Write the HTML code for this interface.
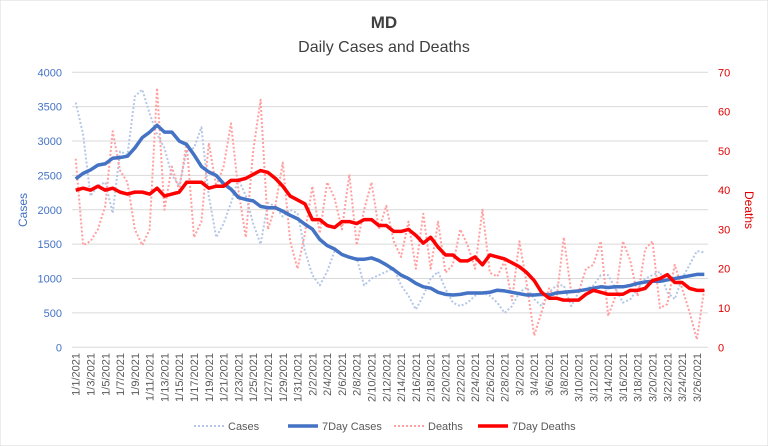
<!DOCTYPE html>
<html><head><meta charset="utf-8"><style>
body{margin:0;background:#fff;font-family:"Liberation Sans",sans-serif}
</style></head><body>
<svg id="chart" width="768" height="446" xmlns="http://www.w3.org/2000/svg" style="display:block">
<rect width="768" height="446" fill="#fff" stroke="#d9d9d9"/>
<text x="384" y="28" text-anchor="middle" font-size="17" font-weight="bold" fill="#404040">MD</text>
<text x="384" y="52" text-anchor="middle" font-size="16" fill="#404040">Daily Cases and Deaths</text>
<text transform="translate(27,210) rotate(-90)" text-anchor="middle" font-size="12" fill="#4472c4">Cases</text>
<text transform="translate(745,210) rotate(90)" text-anchor="middle" font-size="12" fill="#e00000">Deaths</text>
<g id="grid"></g><g id="marks"></g><g id="axes"></g>
<g id="legend"></g>
</svg>
<script>
const casesDaily=[3560,3100,2200,2350,2400,1950,2850,2800,3650,3750,3400,3100,2900,2500,2350,2850,2900,3200,2200,1600,1800,2100,2450,2200,1800,1500,2100,2050,1900,2000,1950,1400,1050,900,1100,1400,1350,1300,1300,900,1000,1050,1100,1150,900,750,550,750,1000,1100,850,650,600,650,750,800,750,650,500,600,800,870,700,600,800,900,900,600,800,850,900,1050,1050,850,650,700,850,1000,1050,1100,800,700,1000,1200,1400,1380];
const cases7=[2450,2530,2580,2650,2670,2750,2760,2780,2900,3050,3130,3230,3130,3130,3000,2950,2800,2630,2550,2500,2380,2300,2180,2150,2130,2050,2030,2030,1980,1920,1870,1790,1720,1570,1480,1430,1350,1310,1280,1280,1300,1260,1200,1130,1050,1000,930,880,860,800,770,760,770,790,790,790,800,830,820,800,780,760,760,770,760,790,800,810,820,840,860,880,870,880,880,900,930,950,960,960,980,1000,1020,1040,1060,1060];
const deathsDaily=[48,26,27,30,36,55,45,42,30,26,30,66,35,46,40,52,28,32,52,41,46,57,40,28,50,63,30,36,47,27,20,29,41,29,42,38,30,44,26,35,42,30,36,27,23,32,20,34,20,32,19,21,30,26,20,35,19,18,22,12,27,16,3,9,15,12,28,14,14,20,21,27,8,13,27,22,13,25,27,10,11,21,15,9,2,15];
const deaths7=[40,40.5,40,41,40,40.5,39.5,39,39.5,39.5,39,40.5,38.5,39,39.5,42,42,42,40.5,41,41,42.5,42.5,43,44,45,44.5,43,41,38.5,37.5,36.5,32.5,32.5,31,30.5,32,32,31.5,32.5,32.5,31,31,29.5,29.5,30,28.5,26.5,28,25.5,23.5,23.5,22,22,23,21,23.5,23,22.5,21.5,20.5,19,17,14,12.5,12.5,12,12,12,13.5,14.5,14,13.5,13.5,13.5,14.5,14.5,15,17,17.5,18.5,16.5,16.5,15,14.5,14.5];
const leftTicks=[0,500,1000,1500,2000,2500,3000,3500,4000];
const rightTicks=[0,10,20,30,40,50,60,70];
const NS="http://www.w3.org/2000/svg";
const X0=72,X1=708,Y0=347.3,Y1=72.3;
const n=casesDaily.length;
function dateLabel(i){const d=new Date(2021,0,1+i);return (d.getMonth()+1)+"/"+d.getDate()+"/2021";}
const xs=i=>X0+(X1-X0)/n*(i+0.5);
const yL=v=>Y0-(Y0-Y1)*v/4000;
const yR=v=>Y0-(Y0-Y1)*v/70;
function mk(t,a,p){const e=document.createElementNS(NS,t);for(const k in a)e.setAttribute(k,a[k]);p.appendChild(e);return e;}
const grid=document.getElementById('grid'),axes=document.getElementById('axes'),marks=document.getElementById('marks'),leg=document.getElementById('legend');
leftTicks.forEach(v=>{
  const l=mk('line',{x1:X0,x2:X1,y1:yL(v),y2:yL(v),stroke:'#d9d9d9','stroke-width':1},grid);
  
  
  const t=mk('text',{x:X0-10,y:yL(v)+4,'text-anchor':'end','font-size':11,fill:'#4472c4'},axes);
  t.textContent=v;
  
  
});
rightTicks.forEach(v=>{
  const t=mk('text',{x:X1+10,y:yR(v)+4,'text-anchor':'start','font-size':11,fill:'#e00000'},axes);
  t.textContent=v;
  
  
});
for(let i=0;i<n;i+=2){
  const t=mk('text',{transform:`translate(${xs(i)+4},353) rotate(-90)`,'text-anchor':'end','font-size':11,fill:'#595959'},axes);
  t.textContent=dateLabel(i);
  
  
}
function line(arr,yf,stroke,w,dash,name){
  const p=mk('polyline',{points:arr.map((v,i)=>xs(i)+','+yf(v)).join(' '),fill:'none',stroke:stroke,'stroke-width':w,'stroke-linejoin':'round'},marks);
  if(dash)p.setAttribute('stroke-dasharray',dash);
  
  
}
line(casesDaily,yL,'#b4c7e7',2,'2,2','cases-line');
line(deathsDaily,yR,'#ff9f9f',2,'2,2','deaths-line');
line(cases7,yL,'#4472c4',3.5,null,'cases-7day-line');
line(deaths7,yR,'#ff0000',3.5,null,'deaths-7day-line');
const legItems=[['Cases','#b4c7e7','2,2',2],['7Day Cases','#4472c4',null,3.5],['Deaths','#ff9f9f','2,2',2],['7Day Deaths','#ff0000',null,3.5]];
const legX=[194,288,394,478];
legItems.forEach((it,k)=>{
  const g=mk('g',{},leg);
  
  
  const l=mk('line',{x1:legX[k],x2:legX[k]+30,y1:426,y2:426,stroke:it[1],'stroke-width':it[3]},g);
  if(it[2])l.setAttribute('stroke-dasharray',it[2]);
  const t=mk('text',{x:legX[k]+34,y:430,'font-size':11,fill:'#595959'},g);
  t.textContent=it[0];
});
</script>
</body></html>
